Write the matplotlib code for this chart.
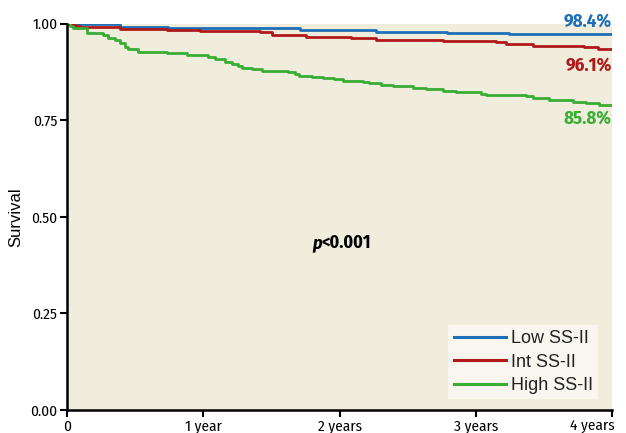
import matplotlib
matplotlib.use("Agg")
import matplotlib.pyplot as plt
from matplotlib.lines import Line2D

# Kaplan-Meier curves (years, survival)
low_t = [0, 0.39, 0.743, 1.713, 2.27, 2.787, 3.243, 4.0]
low_s = [1.0, 0.993, 0.988, 0.984, 0.979, 0.977, 0.974, 0.974]

int_t = [0, 0.059, 0.096, 0.39, 0.735, 0.978, 1.419, 1.507, 1.75, 2.081, 2.265,
         2.757, 3.147, 3.221, 3.419, 3.794, 3.897, 4.0]
int_s = [1.0, 0.995, 0.992, 0.987, 0.984, 0.982, 0.979, 0.972, 0.966, 0.962, 0.959,
         0.956, 0.952, 0.948, 0.943, 0.940, 0.934, 0.934]

high_t = [0, 0.022, 0.044, 0.147, 0.191, 0.265, 0.301, 0.353, 0.39, 0.426, 0.449,
          0.522, 0.735, 0.882, 1.037, 1.088, 1.162, 1.213, 1.257, 1.287, 1.36,
          1.434, 1.625, 1.676, 1.699, 1.801, 1.875, 1.956, 2.022, 2.169, 2.213,
          2.301, 2.39, 2.537, 2.632, 2.757, 2.853, 3.037, 3.074, 3.368, 3.419,
          3.537, 3.713, 3.809, 3.904, 4.0]
high_s = [1.0, 0.995, 0.990, 0.977, 0.975, 0.970, 0.963, 0.959, 0.950, 0.941, 0.934,
          0.928, 0.924, 0.918, 0.914, 0.909, 0.902, 0.896, 0.891, 0.886, 0.883,
          0.879, 0.876, 0.870, 0.866, 0.863, 0.859, 0.857, 0.852, 0.849, 0.846,
          0.842, 0.838, 0.835, 0.831, 0.827, 0.824, 0.818, 0.816, 0.812, 0.808,
          0.803, 0.797, 0.795, 0.790, 0.790]

names = ["Low SS-II", "Int SS-II", "High SS-II"]
end_labels = ["98.4%", "96.1%", "85.8%"]
colors = ["#1f6fb8", "#b01a1a", "#3aad35"]

x_ticks = [0, 1, 2, 3, 4]
x_ticklabels = ["0", "1 year", "2 years", "3 years", "4 years"]
y_ticks = [0, 0.25, 0.5, 0.75, 1.0]

narrow = ["Fira Sans Condensed", "Fira Sans Extra Condensed", "DejaVu Sans"]
plain = ["Liberation Sans", "DejaVu Sans"]

fig = plt.figure(figsize=(6.26, 4.33), dpi=100)
ax = fig.add_axes([0.107, 0.053, 0.871, 0.892])
ax.set_facecolor("#f1eddc")

curves = [(low_t, low_s), (int_t, int_s), (high_t, high_s)]
for (t, s), c in zip(curves, colors):
    ax.step(t, s, where="post", color=c, lw=2.0)

ax.set_xlim(0, 4)
ax.set_ylim(0, 1)
ax.set_xticks(x_ticks)
# last label is drawn by hand a little to the left so it is not cut off
ax.set_xticklabels(x_ticklabels[:-1] + [""])
ax.set_yticks(y_ticks)
ax.set_yticklabels(["%.2f" % v for v in y_ticks])
for lab in ax.get_xticklabels() + ax.get_yticklabels():
    lab.set_family(narrow)
    lab.set_fontsize(11)
ax.annotate(x_ticklabels[-1], xy=(x_ticks[-1], 0), xycoords=("data", "axes fraction"),
            xytext=(2, -7), textcoords="offset points", ha="right", va="top",
            fontsize=11, family=narrow)

ax.tick_params(direction="out", length=5, width=1.5, pad=2)
for side in ["top", "right"]:
    ax.spines[side].set_visible(False)
for side in ["left", "bottom"]:
    ax.spines[side].set_linewidth(1.8)

ax.set_ylabel("Survival", fontsize=12, labelpad=5, family=plain)

# percentages at the right end of each curve
label_y = [1.005, 0.892, 0.756]
for txt, yy, c in zip(end_labels, label_y, colors):
    ax.text(3.995, yy, txt, color=c, fontsize=13.5, fontweight="bold",
            family=narrow, ha="right", va="center")

ax.text(1.87, 0.433, "p", fontsize=13, fontweight="bold", style="italic",
        family=narrow, ha="right", va="center")
ax.text(1.87, 0.433, "<0.001", fontsize=13, fontweight="bold",
        family=narrow, ha="left", va="center")

handles = [Line2D([], [], color=c, lw=2.2) for c in colors]
leg = ax.legend(handles, names, loc="lower right", bbox_to_anchor=(0.974, 0.028),
                prop={"family": plain, "size": 13}, frameon=True, fancybox=False,
                handlelength=2.9, handletextpad=0.25, borderpad=0.3,
                labelspacing=0.35, borderaxespad=0)
leg.get_frame().set_facecolor("#f8f6ee")
leg.get_frame().set_edgecolor("none")
leg.get_frame().set_alpha(1)
for txt in leg.get_texts():
    txt.set_color("#222222")

fig.savefig("out.png", dpi=100)
